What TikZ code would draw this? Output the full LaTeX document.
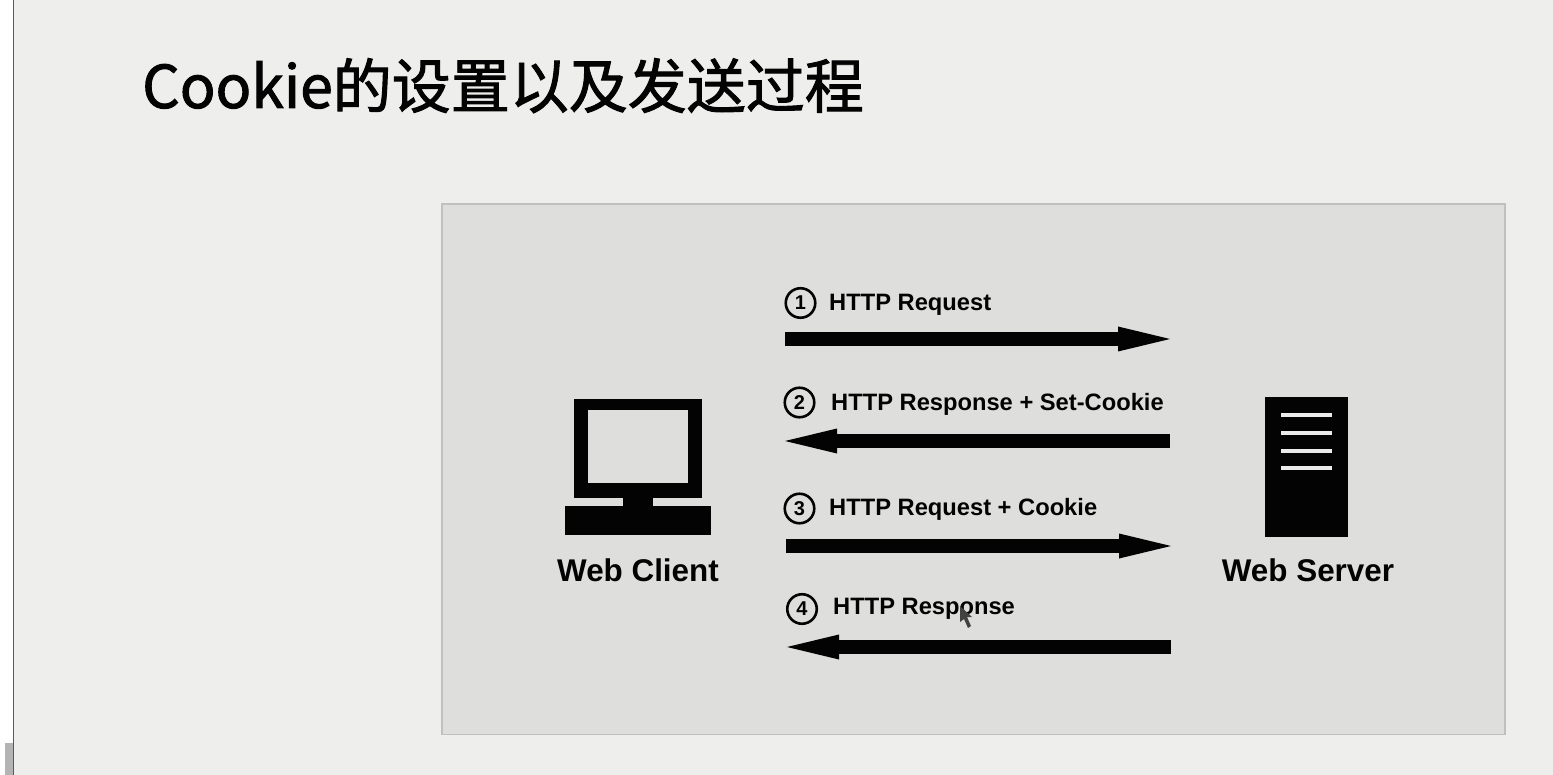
\documentclass[tikz,border=0pt]{standalone}
\usepackage{fontspec}
\setmainfont{Liberation Sans}
\newfontfamily\cjk[FakeBold=1.6]{Noto Sans CJK SC}
\usetikzlibrary{arrows.meta}
\definecolor{slidebg}{HTML}{EEEEED}
\definecolor{panelbg}{HTML}{DEDEDD}
\definecolor{panelline}{HTML}{BFC0BF}
\definecolor{sideline}{HTML}{5A5A5A}
\definecolor{sidebar}{HTML}{B4B4B4}
\definecolor{ink}{HTML}{030303}
\tikzset{
  x=1pt,y=-1pt,
  msgarrow/.style={line width=14pt,draw=ink,-{Triangle[length=52pt,width=25pt,line width=0pt]}},
  msglabel/.style={font=\bfseries\fontsize{23.7}{26}\selectfont,text=ink,anchor=west,inner sep=0pt},
  numcircle/.style={circle,draw=ink,line width=2.6pt,minimum size=29.5pt,inner sep=0pt,font=\bfseries\fontsize{20}{22}\selectfont,text=ink},
  hostlabel/.style={font=\bfseries\fontsize{31.4}{33}\selectfont,text=ink,inner sep=0pt},
  solidink/.style={fill=ink,draw=none},
  serverline/.style={draw=panelbg!60!white,line width=4pt}
}
\begin{document}
\begin{tikzpicture}
\useasboundingbox (0,0) rectangle (1553,775);
\fill[white] (0,0) rectangle (1553,775);
\fill[slidebg] (14,0) rectangle (1553,775);
\draw[sideline,line width=1.6pt] (13.5,0) -- (13.5,775);
\fill[sidebar] (5,743) rectangle (13,775);
\node[anchor=base west,inner sep=0pt,font=\cjk\fontsize{59}{61}\selectfont,text=ink] (title) at (142,108) {Cookie的设置以及发送过程};
\node[draw=panelline,fill=panelbg,line width=1.6pt,minimum width=1063pt,minimum height=530pt,inner sep=0pt,anchor=north west] (panel) at (441,203.5) {};
% client
\fill[solidink] (574,399) rectangle (702,498);
\fill[panelbg] (588,410) rectangle (688,483);
\fill[solidink] (623,498) rectangle (653,506);
\fill[solidink] (565,506) rectangle (711,535);
\node[hostlabel] (client) at (638,570) {Web Client};
% server
\fill[solidink] (1265,397) rectangle (1348,537);
\foreach \y in {415,433,451,468} \draw[serverline] (1281,\y) -- (1332,\y);
\node[hostlabel] (server) at (1308,570) {Web Server};
% arrows
\coordinate (a1s) at (785,339); \coordinate (a1e) at (1170,339);
\coordinate (a2s) at (1170,441); \coordinate (a2e) at (785,441);
\coordinate (a3s) at (786,546); \coordinate (a3e) at (1171,546);
\coordinate (a4s) at (1171,647); \coordinate (a4e) at (787,647);
\draw[msgarrow] (a1s) -- (a1e);
\draw[msgarrow] (a2s) -- (a2e);
\draw[msgarrow] (a3s) -- (a3e);
\draw[msgarrow] (a4s) -- (a4e);
% labels
\node[numcircle] (n1) at (800.5,303) {1};
\node[msglabel] (l1) at (829,305) {HTTP Request};
\node[numcircle] (n2) at (799.5,402.5) {2};
\node[msglabel] (l2) at (831,404) {HTTP Response + Set-Cookie};
\node[numcircle] (n3) at (799.5,508.5) {3};
\node[msglabel] (l3) at (829,509) {HTTP Request + Cookie};
\node[numcircle] (n4) at (802,609) {4};
\node[msglabel] (l4) at (833,609) {HTTP Response};
% pointer
\fill[ink!75] (960,606) -- (960,622) -- (964,619) -- (968,628) -- (971,626) -- (967,617) -- (972,617) -- cycle;
\end{tikzpicture}
\end{document}
